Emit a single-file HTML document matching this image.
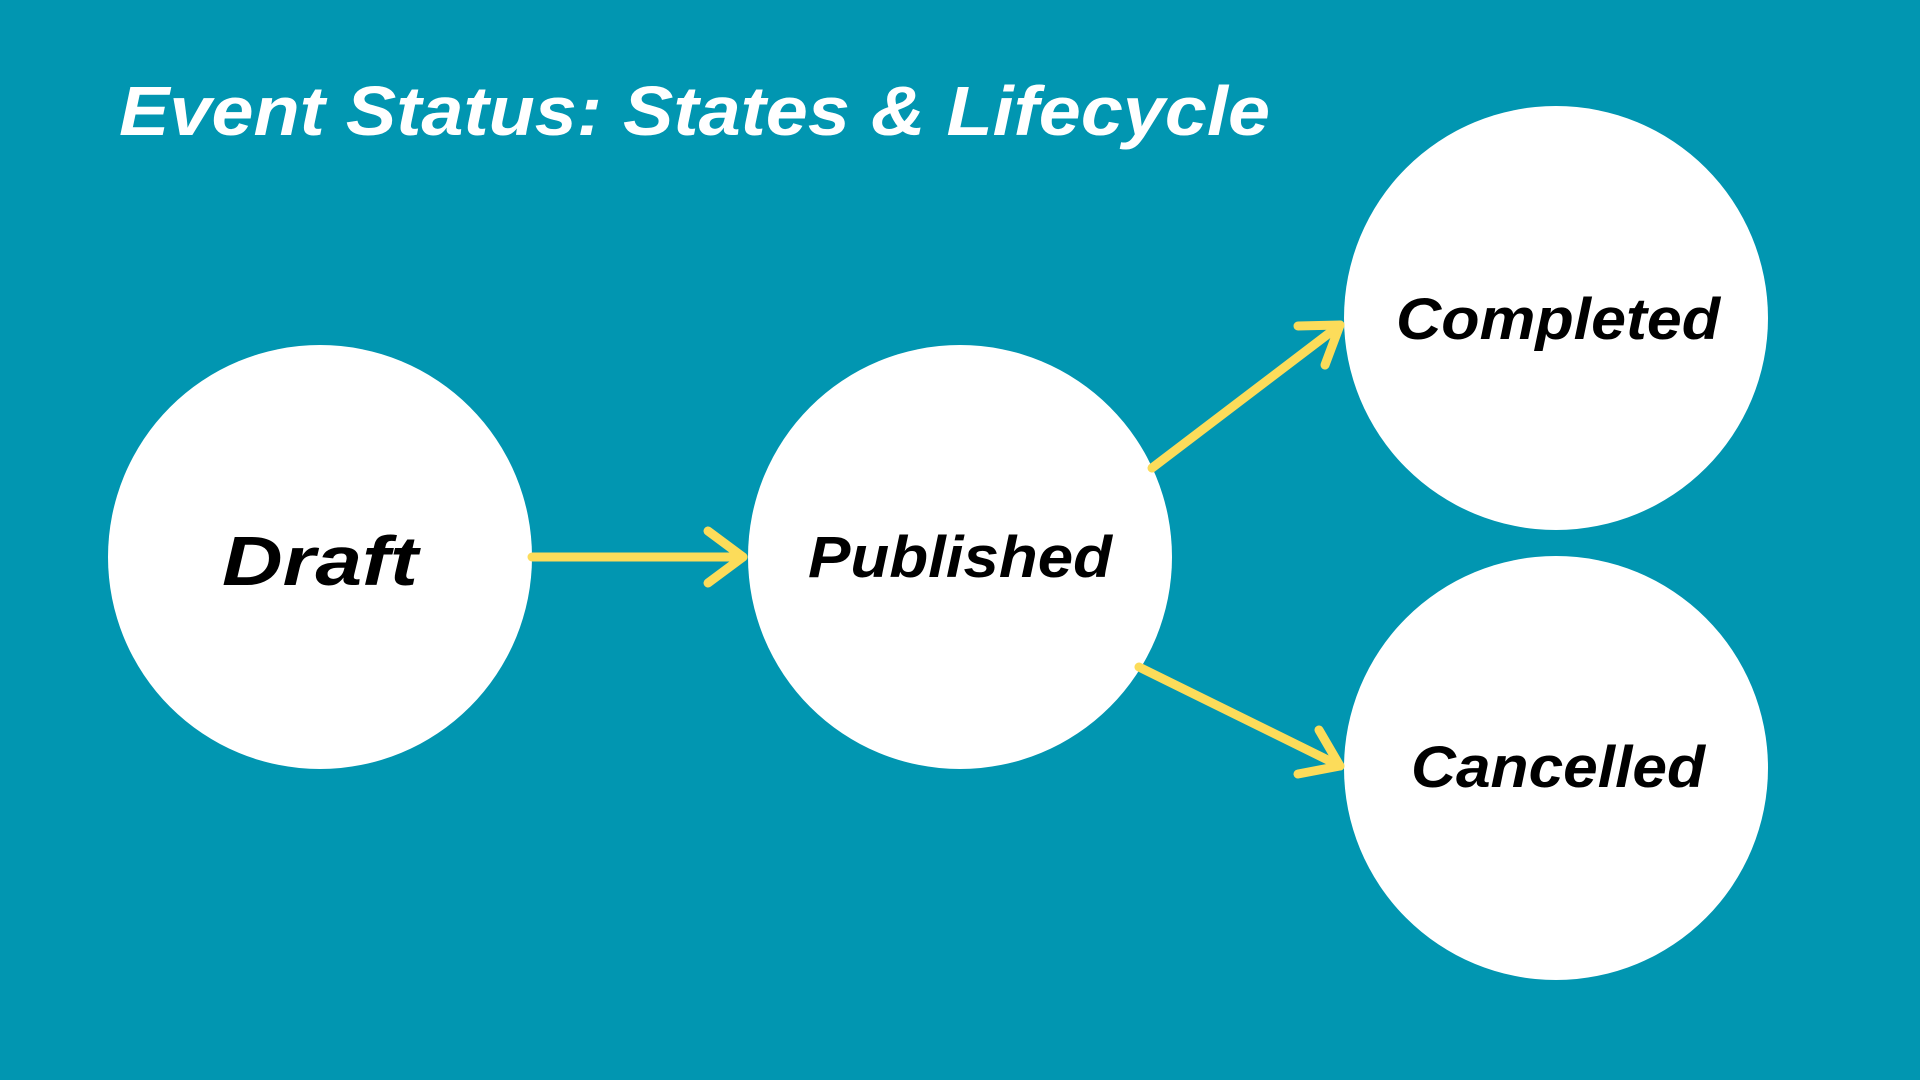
<!DOCTYPE html>
<html><head><meta charset="utf-8"><style>
html,body{margin:0;padding:0;background:#0196b1;}
svg{display:block;}
text{font-family:"Liberation Sans",sans-serif;font-weight:bold;font-style:italic;}
</style></head><body>
<svg width="1920" height="1080" viewBox="0 0 1920 1080" xmlns="http://www.w3.org/2000/svg">
<rect width="1920" height="1080" fill="#0196b1"/>
<text x="119" y="135" font-size="70" fill="#ffffff" textLength="1151" lengthAdjust="spacingAndGlyphs">Event Status: States &amp; Lifecycle</text>
<circle cx="320" cy="557" r="212" fill="#fff"/>
<circle cx="960" cy="557" r="212" fill="#fff"/>
<circle cx="1556" cy="318" r="212" fill="#fff"/>
<circle cx="1556" cy="768" r="212" fill="#fff"/>
<g stroke="#fcdc5a" stroke-width="9" fill="none" stroke-linecap="round" stroke-linejoin="round">
<line x1="532" y1="557" x2="743" y2="557"/>
<polyline points="708,531 743,557 708,583"/>
<line x1="1152" y1="468" x2="1340" y2="325"/>
<polyline points="1298,326 1340,325 1325,365"/>
<line x1="1139" y1="667" x2="1340" y2="766"/>
<polyline points="1319,730 1340,766 1298,774"/>
</g>
<text x="222" y="585" font-size="70" fill="#000" textLength="196" lengthAdjust="spacingAndGlyphs">Draft</text>
<text x="808" y="577" font-size="58" fill="#000" textLength="304" lengthAdjust="spacingAndGlyphs">Published</text>
<text x="1396" y="339" font-size="58" fill="#000" textLength="324" lengthAdjust="spacingAndGlyphs">Completed</text>
<text x="1411" y="787" font-size="58" fill="#000" textLength="294" lengthAdjust="spacingAndGlyphs">Cancelled</text>
</svg>
</body></html>
